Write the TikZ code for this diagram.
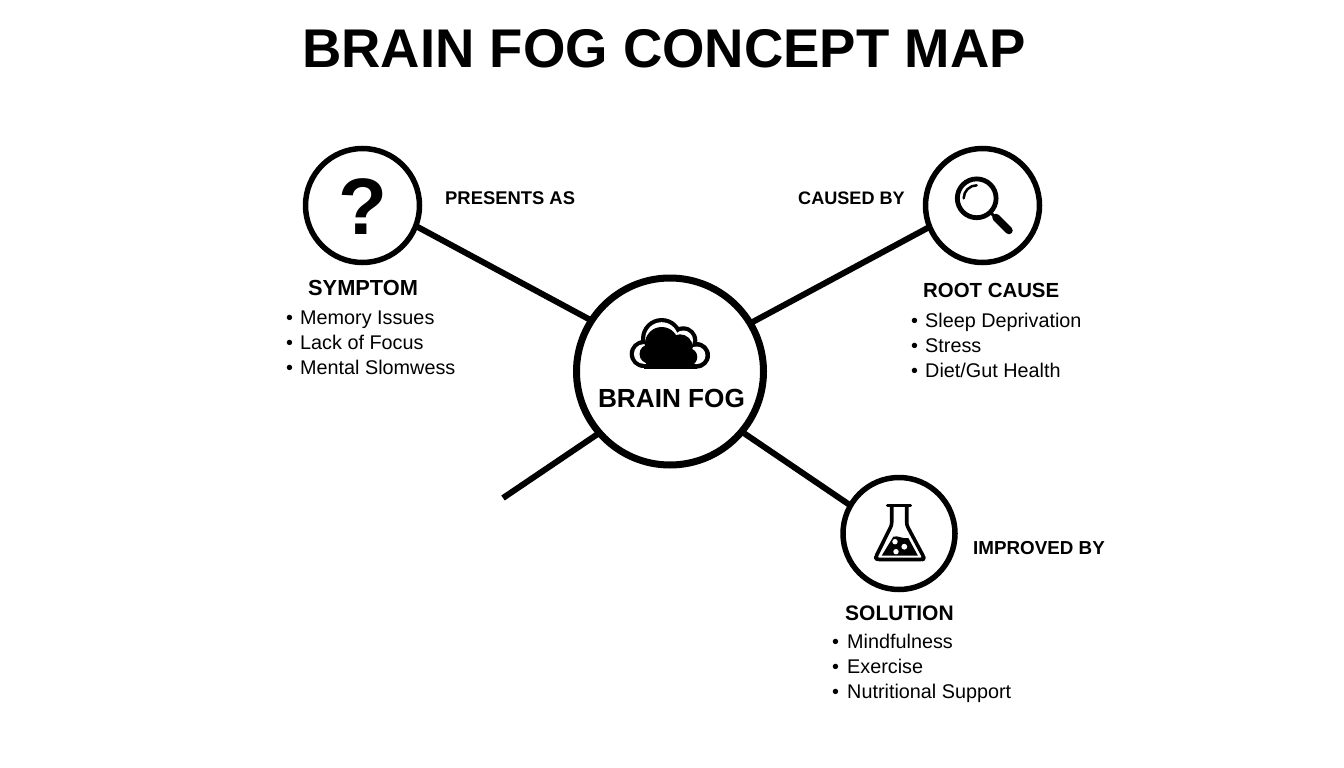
\documentclass[tikz,border=0pt]{standalone}
\usepackage{fontspec}
\setmainfont{Liberation Sans}
\newcommand{\fsz}[1]{\fontsize{#1pt}{#1pt}\selectfont}
\tikzset{
  ring/.style={circle,draw=black,fill=white,line width=5.5pt,inner sep=0pt,outer sep=0pt,minimum size=#1},
  link/.style={draw=black,line width=6pt},
  titletext/.style={anchor=base,inner sep=0pt,font=\fsz{54.5}\bfseries},
  hubtext/.style={anchor=base,inner sep=0pt,font=\fsz{26.2}\bfseries},
  headtext/.style={anchor=base west,inner sep=0pt,font=\fsz{#1}\bfseries},
  reltext/.style={anchor=base west,inner sep=0pt,font=\fsz{#1}\bfseries},
  itemtext/.style={anchor=base west,inner sep=0pt,font=\fsz{19.8}},
}
\newcommand{\listline}[5]{%
  \node[itemtext] (#1b) at (#2,#4) {•};
  \node[itemtext] (#1t) at (#3,#4) {#5};}
\begin{document}
\begin{tikzpicture}[x=1pt,y=-1pt]
\useasboundingbox (0,0) rectangle (1344,768);
\fill[white] (0,0) rectangle (1344,768);
% circles
\node[ring=187pt,line width=7pt] (hub) at (670,371.5) {};
\node[ring=114pt] (sym) at (362.5,205.5) {};
\node[ring=114pt] (root) at (982.5,205.5) {};
\node[ring=112pt] (sol) at (899,533.5) {};
\coordinate (free) at (503,498);
% connectors
\draw[link] (sym.-21) -- (hub.147.5);
\draw[link] (root.202) -- (hub.31.4);
\draw[link] (sol.150) -- (hub.-40);
\draw[link] (hub.221) -- (free);
% title
\node[titletext] (title) at (664,68) {BRAIN FOG CONCEPT MAP};
\node[hubtext] (hubl) at (671.5,407.3) {BRAIN FOG};
% cloud icon
\fill[black] (643.7,354) circle (14) (661.7,338.7) circle (20.7) (683.3,340.3) circle (14) (696.7,355.3) circle (13.3);
\fill[black] (644,350) rectangle (697,368.5);
\fill[white] (643.7,354) circle (9.8) (661.7,338.7) circle (16.5) (683.3,340.3) circle (9.8) (696.7,355.3) circle (8.8);
\fill[white] (644,350) rectangle (697,364.2);
\fill[black] (649,354) circle (9.5) (661.7,343.7) circle (16.7) (680,347) circle (12.7) (688.3,357) circle (9);
\fill[black] (646,352) rectangle (691,368.5);
% question mark
\node[inner sep=0pt,anchor=base,font=\fsz{80}\bfseries] (qm) at (362.5,234.5) {?};
% magnifier
\draw[black,line width=4.8pt] (976.7,198.3) circle (19.4);
\draw[black,line width=2.5pt,line cap=round] (963.7,198.3) arc (180:270:13);
\draw[black,line width=3pt] (990,212) -- (996,218);
\draw[black,line width=7.5pt,line cap=round] (996,217.5) -- (1009,230.5);
% flask
\draw[black,line width=3.2pt,line cap=round] (887.5,505.5) -- (910.5,505.5);
\draw[black,line width=3.6pt,line join=round,rounded corners=2.5pt] (891.7,505.5) -- (891.7,525) -- (875.5,557.5) -- (877,559.5) -- (923,559.5) -- (924,557.5) -- (906.7,525) -- (906.7,505.5);
\fill[black] (893.3,536.7) .. controls (898,535) and (903,539.5) .. (908.3,538) -- (917.8,555.5) -- (881.8,555.5) -- cycle;
\fill[white] (895,541.7) circle (2.7) (904.3,546.7) circle (2.9) (896,551.7) circle (2.7);
% headings
\node[headtext=21.8] (h1) at (308,295) {SYMPTOM};
\node[headtext=20.4] (h2) at (923,297) {ROOT CAUSE};
\node[headtext=21] (h3) at (845,620) {SOLUTION};
% relation labels
\node[reltext=18.4] (r1) at (445,204.5) {PRESENTS AS};
\node[reltext=18.1] (r2) at (798,204.5) {CAUSED BY};
\node[reltext=18.8] (r3) at (973,554.5) {IMPROVED BY};
% lists
\listline{a}{286}{300}{324}{Memory Issues}
\listline{b}{286}{300}{349}{Lack of Focus}
\listline{c}{286}{300}{374}{Mental Slomwess}
\listline{d}{911}{925}{327}{Sleep Deprivation}
\listline{e}{911}{925}{352}{Stress}
\listline{f}{911}{925}{377}{Diet/Gut Health}
\listline{g}{832}{847}{648}{Mindfulness}
\listline{h}{832}{847}{673}{Exercise}
\listline{i}{832}{847}{698}{Nutritional Support}
\end{tikzpicture}
\end{document}
